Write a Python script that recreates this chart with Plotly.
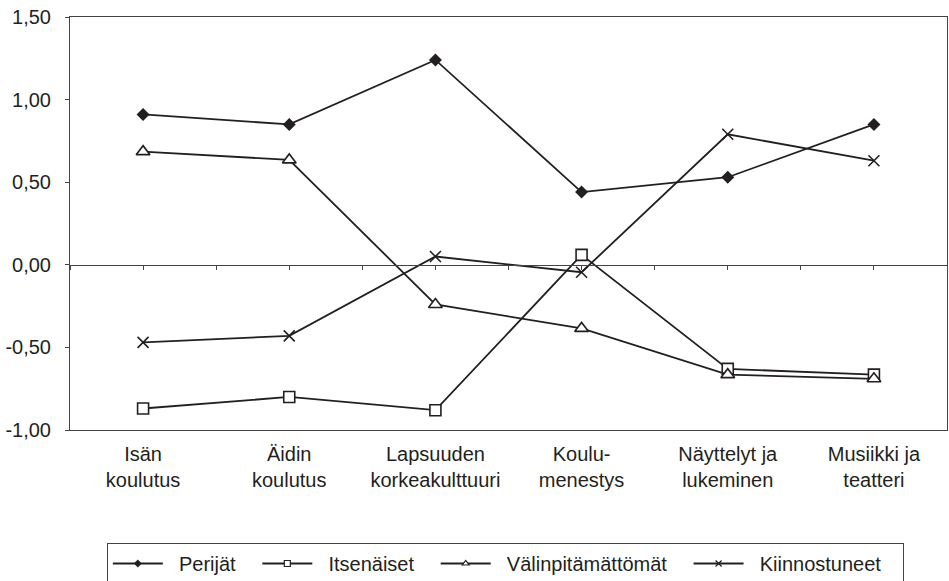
import plotly.graph_objects as go

categories = ["Isän<br>koulutus", "Äidin<br>koulutus", "Lapsuuden<br>korkeakulttuuri",
              "Koulu-<br>menestys", "Näyttelyt ja<br>lukeminen", "Musiikki ja<br>teatteri"]
cat_pos = [0, 1, 2, 3, 4, 5]

perijat = [0.91, 0.85, 1.24, 0.44, 0.53, 0.85]
itsenaiset = [-0.87, -0.80, -0.88, 0.06, -0.63, -0.665]
valinpitamattomat = [0.685, 0.635, -0.24, -0.385, -0.665, -0.69]
kiinnostuneet = [-0.47, -0.43, 0.05, -0.045, 0.79, 0.63]

y_ticks = [-1.0, -0.5, 0.0, 0.5, 1.0, 1.5]
y_ticktext = ["-1,00", "-0,50", "0,00", "0,50", "1,00", "1,50"]
zero_ticks = [-0.5, 0, 0.5, 1, 1.5, 2, 2.5, 3, 3.5, 4, 4.5, 5, 5.5]

INK = "#231f20"
FONT = "Liberation Sans, Arial, sans-serif"
NB = "\u00a0"

series = [
    ("Perijät", perijat, "diamond", INK, 10, 0),
    ("Itsenäiset", itsenaiset, "square", "white", 11, 1.6),
    ("Välinpitämättömät", valinpitamattomat, "triangle-up", "white", 12, 1.6),
    ("Kiinnostuneet", kiinnostuneet, "x-thin-open", INK, 11, 1.6),
]

fig = go.Figure()
# dummy trace to carry the zero-crossing category axis
fig.add_trace(go.Scatter(x=[cat_pos[0]], y=[0], xaxis="x2", mode="markers",
                         marker=dict(opacity=0), showlegend=False, hoverinfo="skip"))
for name, vals, sym, fill, size, lw in series:
    fig.add_trace(go.Scatter(x=cat_pos, y=vals, name=name, showlegend=False,
                             mode="lines+markers", line=dict(color=INK, width=1.8),
                             marker=dict(symbol=sym, size=size, color=fill,
                                         line=dict(color=INK, width=lw))))
# legend-only entries with the small legend symbols
for name, vals, sym, fill, size, lw in series:
    fig.add_trace(go.Scatter(x=[None], y=[None], name=NB * 2 + name + NB * 3,
                             mode="lines+markers", line=dict(color=INK, width=1.8),
                             marker=dict(symbol=sym, size=6, color=fill,
                                         line=dict(color=INK, width=min(lw, 1.2))),
                             showlegend=True, hoverinfo="skip"))

fig.update_layout(
    width=949, height=581,
    margin=dict(l=70, r=2, t=17, b=151, autoexpand=False),
    paper_bgcolor="white", plot_bgcolor="white",
    font=dict(family=FONT, size=20, color=INK),
    showlegend=True,
    legend=dict(orientation="h", x=0.042, xanchor="left", y=-0.2736, yanchor="top",
                bordercolor="#444", borderwidth=1, font=dict(size=20, color=INK),
                itemwidth=50, bgcolor="white"),
    xaxis=dict(range=[-0.5, 5.5], tickvals=cat_pos, ticktext=categories,
               showline=True, mirror=True, linecolor="#444", linewidth=1,
               ticks="", showgrid=False, zeroline=False,
               tickfont=dict(size=20, color=INK), ticklabelstandoff=6),
    xaxis2=dict(range=[-0.5, 5.5], overlaying="x", anchor="free", position=0.4,
                tickvals=zero_ticks, ticks="outside", ticklen=4, tickcolor="#444",
                showline=True, linecolor="#444", linewidth=1, showticklabels=False,
                showgrid=False, zeroline=False),
    yaxis=dict(range=[-1.0, 1.5], tickvals=y_ticks, ticktext=y_ticktext,
               showline=True, mirror=True, linecolor="#444", linewidth=1,
               ticks="outside", ticklen=4, tickcolor="#444", showgrid=False,
               zeroline=False, tickfont=dict(size=20, color=INK), ticklabelstandoff=10),
)

fig.write_html("out.html", config={"displayModeBar": False},
               post_script="document.body.style.margin='0';document.body.style.overflow='hidden';")
